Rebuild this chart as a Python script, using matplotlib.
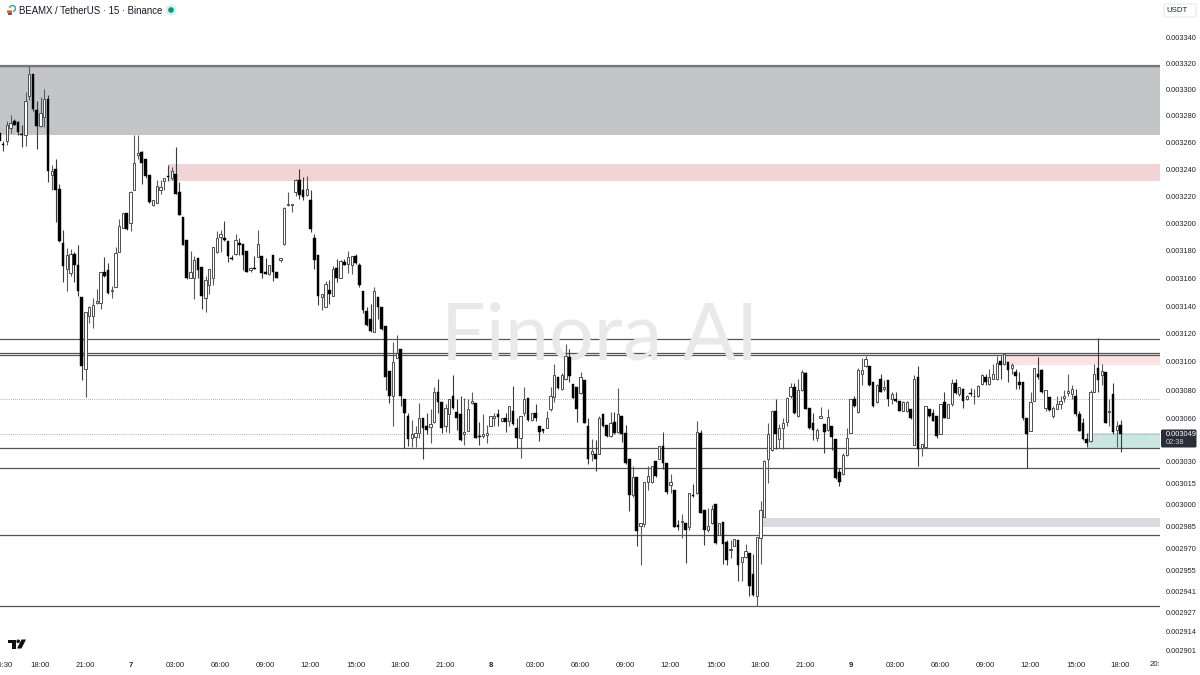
import matplotlib
matplotlib.use('Agg')
import matplotlib.pyplot as plt
from matplotlib.patches import Circle, FancyBboxPatch, Polygon, Rectangle, Wedge
import numpy as np

plt.rcParams['font.family'] = ['Liberation Sans', 'DejaVu Sans']

# candles, prices in millionths of USDT
opens = [3267,3259,3261,3271,3276.5,3275.5,3266.5,3265.5,3295,3312,
    3284.5,3272.5,3279,3292.5,3236,3240.5,3225.5,3186,3167,3164,
    3177.5,3170,3146.5,3095,3133,3132.5,3142,3142,3164.5,3166,
    3150.5,3153.5,3179,3197,3207.5,3200.5,3225,3250.5,3253,3247.5,
    3236,3214,3215.5,3224.5,3231.5,3235.5,3234,3236.5,3223,3204.5,
    3188,3160.5,3160,3174.5,3168,3146,3155.5,3160.5,3179.5,3190,
    3189.5,3187.5,3175,3177.5,3185.5,3185,3180,3166,3167.5,3175.5,
    3176.5,3164.5,3163,3177,3164.5,3173.5,3185,3213.5,3213.5,3223,
    3232.5,3224.5,3221,3217.5,3189.5,3177,3146.5,3139,3151.5,3147,
    3167.5,3160,3172,3170.5,3170,3176.5,3170,3150.5,3136.5,3130.5,
    3121.5,3146.5,3139.5,3126,3093.5,3076,3102.5,3109,3074,3061.5,
    3046,3047,3050,3060,3054.5,3054,3057.5,3078.5,3071.5,3054.5,
    3063,3075.5,3064.5,3063,3049,3051.5,3071,3071,3048,3047.5,
    3048.5,3055,3060,3063,3058,3060,3058.5,3065.5,3053.5,3046.5,
    3063.5,3074.5,3059,3064,3054.5,3052.5,3053.5,3066.5,3075,3089,
    3080.5,3087.5,3103.5,3084,3082,3078,3087,3054.5,3035,3035,
    3035,3063,3055.5,3047.5,3057.5,3050.5,3061.5,3050,3031.5,3006.5,
    3019.5,2985.5,2987,3016,3015.5,3030,3031.5,3041,3029,3013.5,
    3010.5,2986,2988,2987.5,2985,3007,3008,3050,2996.5,2982.5,
    2987.5,3000.5,2979.5,2988,2974.5,2969,2972,2975.5,2961,2964,
    2967,2953,2937.5,2977,2991.5,3032,3038,3065.5,3045.5,3053,
    3057.5,3076,3082,3061.5,3080,3092,3067.5,3057,3046.5,3060.5,
    3056,3052,3054.5,3045.5,3022.5,3021,3034.5,3050,3074,3064.5,
    3091.5,3097,3097,3085.5,3071.5,3087.5,3080.5,3087,3074,3074,
    3072,3065.5,3065,3067,3041.5,3089,3039,3040,3067,3063.5,
    3061.5,3049,3071.5,3060.5,3070,3085,3077,3080.5,3074,3078,
    3075.5,3076,3084,3089,3084.5,3088,3087.5,3100.5,3098.5,3100,
    3096,3093,3086,3086,3060,3051.5,3072,3091.5,3094.5,3067.5,
    3075,3061.5,3067,3070.5,3074.5,3078,3077.5,3076,3063,3057,
    3045.5,3044,3078.5,3095.5,3090.5,3093,3064.5,3077,3052,3055.5]

highs = [3268,3261,3276,3281,3278,3276.5,3273.5,3298,3318,3312,
    3291,3294,3300.5,3296,3243.5,3247.5,3229.5,3195.5,3182,3181.5,
    3179.5,3184.5,3146.5,3136,3140,3145.5,3152.5,3164.5,3175.5,3171,
    3154.5,3183,3203.5,3208,3208,3224,3266,3266,3253.5,3247.5,
    3236,3217,3232,3232,3234,3243.5,3241.5,3256.5,3230.5,3204.5,
    3188,3180,3176.5,3174.5,3168,3161.5,3167,3183,3194.5,3195,
    3202,3187.5,3177,3192,3189.5,3185,3180,3168.5,3176,3195.5,
    3176.5,3175,3170,3177,3164.5,3175,3212.5,3223.5,3214.5,3233,
    3240.5,3234.5,3235,3224.5,3192,3177,3149,3158,3158.5,3169,
    3174,3173.5,3174,3180,3176.5,3178,3171,3151,3139,3141.5,
    3154,3146.5,3139.5,3126,3093.5,3114,3119,3109,3074,3064,
    3059,3055,3071,3060,3063.5,3067,3082.5,3088,3071.5,3070,
    3074,3091,3074,3076,3074.5,3074,3078.5,3071,3057.5,3063,
    3055.5,3062,3063.5,3067,3060.5,3063.5,3068.5,3083,3060,3061.5,
    3082,3074.5,3064,3070,3054.5,3052.5,3065.5,3082,3098.5,3089,
    3092,3112.5,3109.5,3084,3082,3093,3087,3060,3045.5,3045,
    3061.5,3063,3055.5,3064.5,3064.5,3081.5,3062,3055.5,3031.5,3026.5,
    3019.5,2987.5,3015.5,3027,3027,3030.5,3041,3050.5,3029,3021,
    3010.5,2989.5,2993.5,2987.5,3008,3014,3058.5,3052,2996.5,2997.5,
    3000,3000.5,2987.5,2988,2976,2976,2976.5,2975.5,2964.5,2973,
    2967,2966.5,2978,3002.5,3031,3056.5,3065.5,3074,3056,3060,
    3075,3085,3085,3087.5,3094.5,3093,3067.5,3063.5,3053,3068,
    3056,3067,3054.5,3045.5,3025.5,3035.5,3053,3074,3076,3096,
    3103,3104.5,3097,3085.5,3084.5,3091.5,3087,3087,3078.5,3078.5,
    3072,3072,3072,3067,3090.5,3097,3042,3069,3067,3067,
    3061.5,3070.5,3078.5,3070.5,3087.5,3087.5,3082.5,3081.5,3076.5,3081.5,
    3081,3083.5,3091.5,3091.5,3095,3098.5,3104.5,3104.5,3106.5,3100,
    3099,3095,3093,3086,3060,3078.5,3096,3103.5,3095,3080,
    3075,3069,3076,3076,3080,3091.5,3083.5,3081,3065.5,3060,
    3049.5,3080,3098.5,3117,3098.5,3093,3074,3085,3058,3059]

lows = [3261,3253.5,3258,3267.5,3273,3266,3256.5,3257.5,3292,3283.5,
    3255.5,3272,3272,3231,3225,3201.5,3186.5,3157.5,3151,3162,
    3157.5,3147.5,3087,3075,3127.5,3124,3141.5,3138,3161,3149,
    3146,3153.5,3179,3196.5,3195.5,3194.5,3225,3247.5,3229,3234,
    3215.5,3213,3215,3221.5,3224.5,3231.5,3232.5,3222,3206,3184,
    3159.5,3160.5,3145,3160,3138,3136,3149,3155,3178.5,3179.5,
    3187.5,3172,3173.5,3177,3177,3166,3164.5,3164.5,3166.5,3175.5,
    3160.5,3163,3162.5,3158,3160,3172,3184.5,3213,3208.5,3220.5,
    3218,3217.5,3220.5,3193.5,3166.5,3140.5,3137,3139,3141.5,3147,
    3157.5,3160,3169.5,3164,3163,3170.5,3154,3135,3126,3121.5,
    3121.5,3131,3123,3080,3071,3054.5,3102.5,3068.5,3039.5,3040.5,
    3040,3040,3046.5,3031.5,3049,3042.5,3057,3063.5,3049.5,3050.5,
    3050,3067,3052,3044.5,3041.5,3051,3070.5,3046,3041.5,3046.5,
    3042.5,3055,3054.5,3054.5,3057.5,3050.5,3054.5,3055.5,3039,3032.5,
    3062,3058.5,3058.5,3058.5,3044.5,3049.5,3053,3065.5,3071.5,3080.5,
    3080,3087,3086,3074.5,3057.5,3077.5,3056.5,3028.5,3030,3023.5,
    3035,3054,3047,3047,3049,3050,3043.5,3028.5,2995.5,3005.5,
    2971.5,2958.5,2985,3010,3015,3019.5,3031.5,3024.5,3007.5,3008,
    2985,2982.5,2977.5,2960,2982.5,3005.5,3007.5,2994.5,2972.5,2981,
    2987,2973,2979,2959.5,2958.5,2963.5,2971.5,2948,2948,2963.5,
    2938,2938,2931,2959.5,2991.5,3015,3037.5,3038.5,3039,3038.5,
    3055,3074.5,3063,3061,3079.5,3066.5,3052.5,3045,3044.5,3060.5,
    3035.5,3051.5,3038,3018,3013,3020.5,3034,3049.5,3068,3064,
    3083.5,3096.5,3083,3068,3071,3078.5,3079.5,3069,3070.5,3071.5,
    3065,3065.5,3064.5,3059.5,3041.5,3026.5,3033.5,3040,3061,3058,
    3046.5,3049,3060,3060,3069,3077.5,3076,3067.5,3073,3076,
    3070.5,3075,3083.5,3083.5,3083.5,3087.5,3087,3087.5,3098,3085.5,
    3091.5,3081,3081,3059,3025.5,3051.5,3072,3088,3078,3065.5,
    3065.5,3060.5,3066.5,3067,3071.5,3076,3074,3062,3051,3045,
    3040,3043.5,3078.5,3078.5,3083.5,3056.5,3055,3049,3040,3036.5]

closes = [3261,3258.5,3273.5,3274.5,3273.5,3268,3265.5,3291,3312,3285,
    3272.5,3282.5,3293,3238.5,3238.5,3225,3187,3169,3177,3177.5,
    3169.5,3151,3097,3136,3139.5,3140.5,3143.5,3164.5,3162,3149.5,
    3151.5,3178.5,3198.5,3207.5,3196,3223.5,3244.5,3252,3244.5,3235,
    3216,3217,3227.5,3227,3233.5,3234.5,3238.5,3222,3206.5,3184.5,
    3160,3164.5,3173.5,3166,3147,3159,3167,3182.5,3189.5,3192.5,
    3188,3176,3174,3188,3184.5,3177,3164.5,3167.5,3167,3185,
    3164,3163.5,3170,3164.5,3160.5,3175,3211.5,3214.5,3214.5,3232,
    3221,3219.5,3225.5,3196,3173,3147.5,3148.5,3156,3148.5,3167,
    3160,3172.5,3170,3175.5,3176,3171,3155,3137,3126.5,3122,
    3150.5,3139.5,3123.5,3089.5,3076,3100,3106,3075.5,3064,3045.5,
    3049,3050,3060.5,3053,3052,3056,3079,3071.5,3053,3067.5,
    3074,3067.5,3060.5,3045,3050.5,3067,3072,3046.5,3047,3049,
    3050,3061.5,3061.5,3061,3060.5,3057.5,3068.5,3056,3046.5,3061.5,
    3074,3059,3064,3060,3050.5,3051.5,3060,3076,3091,3081.5,
    3091,3104.5,3090,3074.5,3067,3089,3057,3032,3037,3032,
    3060,3054.5,3047.5,3057,3049.5,3063,3049,3029,3006.5,3019.5,
    2982,2987.5,3015.5,3020,3027,3020,3040.5,3029,3008.5,3015.5,
    2985,2985,2989,2983,3008,3006,3050.5,2994.5,2983,2985.5,
    2997,2973.5,2987.5,2973,2962,2970,2976.5,2958.5,2964,2968,
    2944.5,2938.5,2978,2996.5,3030.5,3049,3065,3049,3053.5,3056.5,
    3074.5,3082,3064,3080,3093,3067,3053,3052,3052,3061.5,
    3050.5,3061,3047,3018.5,3016,3034.5,3046,3074,3068.5,3094,
    3094.5,3102,3083.5,3068.5,3083.5,3079,3082,3074,3077,3072,
    3065.5,3071.5,3071.5,3060,3088,3038.5,3042,3068.5,3061.5,3058.5,
    3047.5,3070,3060.5,3070,3085,3078,3082,3072,3076,3077.5,
    3076,3083,3091,3085.5,3089.5,3091.5,3099.5,3097.5,3105.5,3094.5,
    3097.5,3090,3083.5,3060,3049,3071.5,3096,3089.5,3078.5,3080,
    3066,3067.5,3070,3072,3076,3079.5,3080.5,3063,3051.5,3045.5,
    3043,3079,3091.5,3087,3093.5,3057,3065.5,3050.5,3054.5,3049]

# price scale as drawn on the right
price_ticks = [3340, 3320, 3300, 3280, 3260, 3240, 3220, 3200, 3180, 3160, 3140, 3120,
    3100, 3080, 3060, 3030, 3015, 3000, 2985, 2970, 2955, 2941, 2927, 2914, 2901]
price_labels = ['0.%06d' % p for p in price_ticks]

# time scale, candle number -> label
time_ticks = [1, 11, 23, 35, 47, 59, 71, 83, 95, 107, 119, 131, 143, 155, 167, 179, 191,
    203, 215, 227, 239, 251, 263, 275, 287, 299]
time_labels = ['15:30', '18:00', '21:00', '7', '03:00', '06:00', '09:00', '12:00', '15:00',
    '18:00', '21:00', '8', '03:00', '06:00', '09:00', '12:00', '15:00', '18:00', '21:00',
    '9', '03:00', '06:00', '09:00', '12:00', '15:00', '18:00']

# horizontal levels and zones, same units as the candles
solid_levels = [3317.8, 3116.4, 3106.5, 3105.1, 3039.1, 3025.3, 2979.1, 2931.3]
dotted_levels = [3073.8, 3049]
zones = [
    (0, 3265.4, 3317.8, '#c4c5c7'),
    (45, 3231.1, 3243.7, '#f0d4d6'),
    (267.7, 3097.5, 3106, '#fbe3e3'),
    (290.3, 3039.3, 3049.6, '#c9e6e0'),
    (203.7, 2985, 2991.2, '#dcdae0'),
]

fig = plt.figure(figsize=(12, 6.75), dpi=100, facecolor='white')
ax = fig.add_axes([0, 23 / 675, 1160 / 1200, 652 / 675])
ax.set_yscale('log')
ax.set_xlim(0.2, 309.53)
ax.set_ylim(2900.3, 3368.5)

for start, low, high, colour in zones:
    ax.add_patch(Rectangle((start, low), 320 - start, high - low, facecolor=colour, edgecolor='none', zorder=1))

for level in solid_levels:
    ax.axhline(level, color='#555555', lw=0.9, zorder=2)
ax.axhline(solid_levels[0], color='#777777', lw=1.6, zorder=2)
for level in dotted_levels:
    ax.axhline(level, color='#999999', lw=0.6, ls=(0, (1, 1.5)), zorder=2)

ax.text(600 / 1160, 1 - 338 / 652, 'Finora AI', transform=ax.transAxes, ha='center', va='center',
        fontsize=57, color='#e9e9eb', family=['Lato', 'DejaVu Sans'], fontweight='normal', zorder=2)

opens = np.array(opens)
highs = np.array(highs)
lows = np.array(lows)
closes = np.array(closes)
idx = np.arange(len(opens))
up = closes >= opens

ax.vlines(idx[up], lows[up], highs[up], color='#5a5a5a', lw=0.8, zorder=3)
ax.vlines(idx[~up], lows[~up], highs[~up], color='#3a3a3a', lw=0.8, zorder=3)
ax.bar(idx[up], closes[up] - opens[up], bottom=opens[up], width=0.66, facecolor='white',
       edgecolor='#4d4d4d', lw=0.7, zorder=4)
ax.bar(idx[~up], opens[~up] - closes[~up], bottom=closes[~up], width=0.78, facecolor='black',
       edgecolor='black', lw=0.3, zorder=4)

for side in ax.spines.values():
    side.set_visible(False)
ax.minorticks_off()
ax.yaxis.tick_right()
ax.set_yticks(price_ticks)
ax.set_yticklabels(price_labels, fontsize=5.3, color='#1e222d')
ax.set_xticks(time_ticks)
ax.set_xticklabels(time_labels, fontsize=5.6, color='#1e222d')
ax.tick_params(axis='y', which='both', length=0, pad=4)
ax.tick_params(axis='x', length=0, pad=7)
ax.yaxis.set_minor_locator(plt.NullLocator())
ax.yaxis.set_minor_formatter(plt.NullFormatter())
for label in ax.get_xticklabels():
    if len(label.get_text()) == 1:
        label.set_fontweight('bold')

# overlay in pixels for the tradingview furniture
top = fig.add_axes([0, 0, 1, 1], facecolor='none')
top.set_xlim(0, 1200)
top.set_ylim(675, 0)
top.axis('off')

top.text(19, 10.5, 'BEAMX / TetherUS · 15 · Binance', fontsize=6.9, color='#131722', va='center')
top.text(1150, 665, '20:', fontsize=5.6, color='#1e222d', va='center')

# symbol icon and status dot
top.add_patch(Wedge((12.5, 8.5), 3.6, 190, 80, width=1.3, facecolor='#17a589'))
top.add_patch(Rectangle((7, 9.5), 5, 1.8, facecolor='#e9b33c'))
top.add_patch(Rectangle((7, 11.3), 5, 1.8, facecolor='#e4573d'))
top.add_patch(Rectangle((7.5, 13.1), 4.5, 1.4, facecolor='#6a4fa3'))
top.add_patch(Circle((171, 10), 5.5, facecolor='#d9f0eb'))
top.add_patch(Circle((171, 10), 2.8, facecolor='#089981'))

# USDT button
top.add_patch(FancyBboxPatch((1164, 4), 32, 13, boxstyle='round,pad=0,rounding_size=2',
                             facecolor='white', edgecolor='#e6e8ee', lw=0.8))
top.text(1166, 10.5, 'USDT', fontsize=5.6, color='#1e222d', va='center')

# last price tag
top.add_patch(FancyBboxPatch((1161, 429.5), 35.5, 18, boxstyle='round,pad=0,rounding_size=1.5',
                             facecolor='#2a2e39', edgecolor='none'))
top.text(1166, 434.5, '0.003049', fontsize=5.3, color='white', va='center')
top.text(1166, 442.5, '02:38', fontsize=5.3, color='#c8cad0', va='center')

# tradingview mark
top.add_patch(Polygon([(7.5, 639.5), (15.5, 639.5), (15.5, 648.5), (11.5, 648.5), (11.5, 643), (7.5, 643)],
                      facecolor='#111111'))
top.add_patch(Circle((18.2, 641.3), 1.8, facecolor='#111111'))
top.add_patch(Polygon([(21.5, 639.5), (26, 639.5), (21.5, 648.5), (17, 648.5)], facecolor='#111111'))

fig.savefig('out.png', dpi=100)
